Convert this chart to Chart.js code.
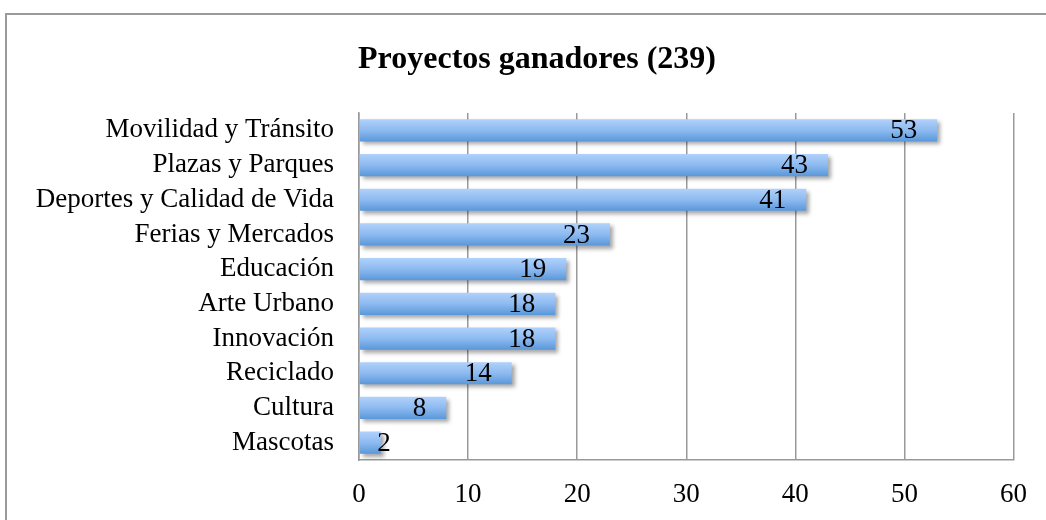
<!DOCTYPE html>
<html>
<head>
<meta charset="utf-8">
<script src="https://cdn.jsdelivr.net/npm/chart.js@4.4.1/dist/chart.umd.min.js"></script>
<style>
    html, body { margin: 0; padding: 0; background: #fff; }
    #wrap { width: 1046px; height: 520px; position: relative; }
</style>
</head>
<body>
<div id="wrap"><canvas id="projectsChart" width="1046" height="520"></canvas></div>
<script>
// Chart data
const chartTitle = 'Proyectos ganadores (239)';
const categories = [
    'Movilidad y Tránsito', 'Plazas y Parques', 'Deportes y Calidad de Vida',
    'Ferias y Mercados', 'Educación', 'Arte Urbano', 'Innovación',
    'Reciclado', 'Cultura', 'Mascotas'
];
const projectCounts = [53, 43, 41, 23, 19, 18, 18, 14, 8, 2];
const xTicks = [0, 10, 20, 30, 40, 50, 60];

const serif = '"Liberation Serif", "DejaVu Serif", serif';

// Frame, title and value labels drawn on the canvas
const decorPlugin = {
    id: 'decor',
    beforeDraw(chart) {
        const c = chart.ctx;
        c.save();
        c.strokeStyle = '#9a9a9a';
        c.lineWidth = 2;
        c.beginPath();
        c.moveTo(6, 530);
        c.lineTo(6, 14);
        c.lineTo(1060, 14);
        c.stroke();
        c.fillStyle = '#000';
        c.font = 'bold 32px ' + serif;
        c.textAlign = 'center';
        c.textBaseline = 'middle';
        c.fillText(chartTitle, 537, 60);
        c.restore();
    },
    beforeDatasetsDraw(chart) {
        const c = chart.ctx;
        c.save();
        c.shadowColor = 'rgba(0,0,0,0.35)';
        c.shadowOffsetX = 3;
        c.shadowOffsetY = 3;
        c.shadowBlur = 4;
    },
    afterDatasetsDraw(chart) {
        const c = chart.ctx;
        c.restore();
        c.save();
        c.fillStyle = '#000';
        c.font = '27px ' + serif;
        c.textAlign = 'right';
        c.textBaseline = 'middle';
        const meta = chart.getDatasetMeta(0);
        meta.data.forEach((bar, i) => {
            const tx = Math.max(bar.x - 20, bar.base + 31);
            c.fillText(String(projectCounts[i]), tx, bar.y + 1);
        });
        c.restore();
    }
};

const chart = new Chart(document.getElementById('projectsChart'), {
    type: 'bar',
    data: {
        labels: categories,
        datasets: [{
            data: projectCounts,
            backgroundColor: function(context) {
                const ch = context.chart;
                const yScale = ch.scales.y;
                if (!yScale || !ch.chartArea) return '#7aaee8';
                const yc = yScale.getPixelForValue(context.dataIndex);
                const g = ch.ctx.createLinearGradient(0, yc - 11, 0, yc + 11);
                g.addColorStop(0, '#b0d1fb');
                g.addColorStop(0.5, '#8dbaf0');
                g.addColorStop(1, '#5a98da');
                return g;
            },
            borderWidth: 0,
            categoryPercentage: 0.64,
            barPercentage: 1.0
        }]
    },
    options: {
        indexAxis: 'y',
        responsive: false,
        animation: false,
        layout: { padding: { top: 113, right: 32, bottom: 0, left: 0 } },
        plugins: {
            legend: { display: false },
            title: { display: false },
            tooltip: { enabled: false }
        },
        scales: {
            x: {
                min: 0,
                max: 60,
                afterBuildTicks: function(scale) {
                    scale.ticks = xTicks.map(v => ({ value: v }));
                },
                afterFit: function(scale) { scale.height = 60; },
                grid: { color: '#999', lineWidth: 1.5, drawTicks: false },
                border: { display: true, color: '#999', width: 1.5 },
                ticks: {
                    color: '#000',
                    padding: 19,
                    font: { family: serif, size: 27 }
                }
            },
            y: {
                afterFit: function(scale) { scale.width = 359; },
                grid: { display: false, drawTicks: false },
                border: { display: true, color: '#999', width: 1.5 },
                ticks: {
                    color: '#000',
                    padding: 25,
                    autoSkip: false,
                    font: { family: serif, size: 27 }
                }
            }
        }
    },
    plugins: [decorPlugin]
});
</script>
</body>
</html>
